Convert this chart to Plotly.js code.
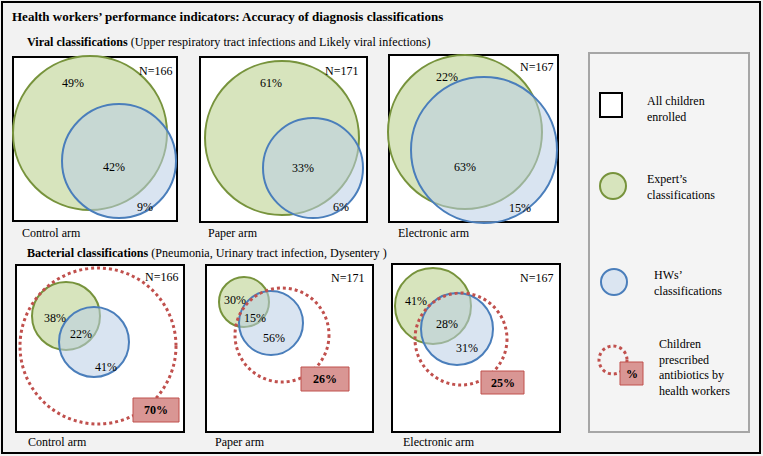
<!DOCTYPE html>
<html>
<head>
<meta charset="utf-8">
<script src="https://cdn.plot.ly/plotly-3.0.1.min.js"></script>
<style>html,body{margin:0;padding:0;background:#f2f2f2;}#chart{width:763px;height:456px;}</style>
</head>
<body>
<div id="chart"></div>
<script>
// ---- DATA ----
const arms = ['Control arm', 'Paper arm', 'Electronic arm'];
const nChildren = [166, 171, 167];
const viralExpertOnly = [49, 61, 22];
const viralBoth = [42, 33, 63];
const viralHWOnly = [9, 6, 15];
const bactExpertOnly = [38, 30, 41];
const bactBoth = [22, 15, 28];
const bactHWOnly = [41, 56, 31];
const antibioticPct = [70, 26, 25];

// ---- LAYOUT GEOMETRY (pixel space) ----
const viralBox = [[13,57,177,221],[200,57,367,222],[389,55,558,222]];
const viralGreen = [[90,133,77],[282,138,77],[465,132,77]];
const viralBlue = [[119,161,57],[313,168,50],[484,150,73]];
const viralPosExpert = [[73,83],[271,83],[447,77]];
const viralPosBoth = [[114,167],[303,168],[465,167]];
const viralPosHW = [[145,207],[341,207],[520,208]];
const viralPosN = [[155,71],[341,71],[536,67]];
const viralArmPos = [[20,233],[206,233],[396,233]];

const bactBox = [[16,265,184,432],[206,265,373,432],[392,264,560,432]];
const bactGreen = [[66,316,34],[244,302,25],[433,306,38]];
const bactBlue = [[94,342,35],[271,323,32],[457,329,36]];
const bactRed = [[98,346,78],[282,335,47],[461,339,46]];
const bactRedBox = [[133,398,179,422],[301,367,349,391],[481,371,524,394]];
const bactPosExpert = [[55,318],[235,300],[416,301]];
const bactPosBoth = [[81,334],[255,318],[447,324]];
const bactPosHW = [[106,367],[274,338],[467,348]];
const bactPosN = [[161,277],[347,278],[536,278]];
const bactArmPos = [[26,442],[213,442],[401,442]];

const FONT = 'Liberation Serif';
const GREEN_LINE = '#77933c', GREEN_FILL = 'rgba(215,228,189,1)';
const BLUE_LINE = '#4a7ebb', BLUE_FILL = 'rgba(185,205,229,0.55)';
const RED = '#c0504d', RED_FILL = '#d99694';

const shapes = [];
const ann = [];
function rect(x0,y0,x1,y1,line,fill,w){shapes.push({type:'rect',xref:'x',yref:'y',x0,y0,x1,y1,line:{color:line,width:w},fillcolor:fill,layer:'above'});}
function circ(cx,cy,r,line,fill,w,dash){shapes.push({type:'circle',xref:'x',yref:'y',x0:cx-r,y0:cy-r,x1:cx+r,y1:cy+r,line:{color:line,width:w,dash:dash||'solid'},fillcolor:fill,layer:'above'});}
function txt(x,y,t,opts){opts=opts||{};ann.push({x,y,xref:'x',yref:'y',text:t,showarrow:false,xanchor:opts.xa||'center',yanchor:'middle',align:'left',font:{family:FONT,size:opts.size||12,color:'#000'}});}
const pct = v => v + '%';

// outer frame
rect(2,2,760,453,'#000','rgba(0,0,0,0)',2);

// titles
txt(10,16,'<b>Health workers’ performance indicators: Accuracy of diagnosis classifications</b>',{xa:'left',size:13});
txt(25,42,'<b>Viral classifications</b> (Upper respiratory tract infections and Likely viral infections)',{xa:'left',size:12.1});
txt(25,253,'<b>Bacterial classifications</b> (Pneumonia, Urinary tract infection, Dysentery )',{xa:'left',size:12.1});

// viral panels
for (let i=0;i<arms.length;i++){
  const b=viralBox[i];
  rect(b[0],b[1],b[2],b[3],'#000','#ffffff',2);
  circ(viralGreen[i][0],viralGreen[i][1],viralGreen[i][2],GREEN_LINE,GREEN_FILL,2);
  circ(viralBlue[i][0],viralBlue[i][1],viralBlue[i][2],BLUE_LINE,BLUE_FILL,2);
  txt(viralPosExpert[i][0],viralPosExpert[i][1],pct(viralExpertOnly[i]));
  txt(viralPosBoth[i][0],viralPosBoth[i][1],pct(viralBoth[i]));
  txt(viralPosHW[i][0],viralPosHW[i][1],pct(viralHWOnly[i]));
  txt(viralPosN[i][0],viralPosN[i][1],'N='+nChildren[i]);
  txt(viralArmPos[i][0],viralArmPos[i][1],arms[i],{xa:'left'});
}
// bacterial panels
for (let i=0;i<arms.length;i++){
  const b=bactBox[i];
  rect(b[0],b[1],b[2],b[3],'#000','#ffffff',2);
  circ(bactGreen[i][0],bactGreen[i][1],bactGreen[i][2],GREEN_LINE,GREEN_FILL,2);
  circ(bactBlue[i][0],bactBlue[i][1],bactBlue[i][2],BLUE_LINE,BLUE_FILL,2);
  circ(bactRed[i][0],bactRed[i][1],bactRed[i][2],RED,'rgba(0,0,0,0)',3,'dot');
  const rb=bactRedBox[i];
  rect(rb[0],rb[1],rb[2],rb[3],RED,RED_FILL,1);
  txt((rb[0]+rb[2])/2,(rb[1]+rb[3])/2,'<b>'+pct(antibioticPct[i])+'</b>');
  txt(bactPosExpert[i][0],bactPosExpert[i][1],pct(bactExpertOnly[i]));
  txt(bactPosBoth[i][0],bactPosBoth[i][1],pct(bactBoth[i]));
  txt(bactPosHW[i][0],bactPosHW[i][1],pct(bactHWOnly[i]));
  txt(bactPosN[i][0],bactPosN[i][1],'N='+nChildren[i]);
  txt(bactArmPos[i][0],bactArmPos[i][1],arms[i],{xa:'left'});
}

// legend panel
rect(589,53,749,432,'#a6a6a6','#f4f4f4',2);
rect(600,93,622,117,'#000','#ffffff',2);
txt(645,109,'All children<br>enrolled',{xa:'left'});
circ(613,186,13,GREEN_LINE,GREEN_FILL,2);
txt(645,187,'Expert’s<br>classifications',{xa:'left'});
circ(614,282,13,BLUE_LINE,'#dbe5f1',2);
txt(652,283,'HWs’<br>classifications',{xa:'left'});
circ(613,360,14,RED,'rgba(0,0,0,0)',3,'dot');
rect(620,362,643,385,RED,RED_FILL,1);
txt(632,374,'<b>%</b>');
txt(657,367,'Children<br>prescribed<br>antibiotics by<br>health workers',{xa:'left'});

const layout = {
  width:763, height:456,
  margin:{l:0,r:0,t:0,b:0},
  paper_bgcolor:'#f2f2f2', plot_bgcolor:'#f2f2f2',
  font:{family:FONT},
  xaxis:{range:[0,763],visible:false,fixedrange:true},
  yaxis:{range:[456,0],visible:false,fixedrange:true},
  showlegend:false,
  shapes:shapes, annotations:ann
};
Plotly.newPlot('chart',[{x:[0],y:[0],mode:'markers',marker:{opacity:0},hoverinfo:'skip'}],layout,{staticPlot:true});
</script>
</body>
</html>
